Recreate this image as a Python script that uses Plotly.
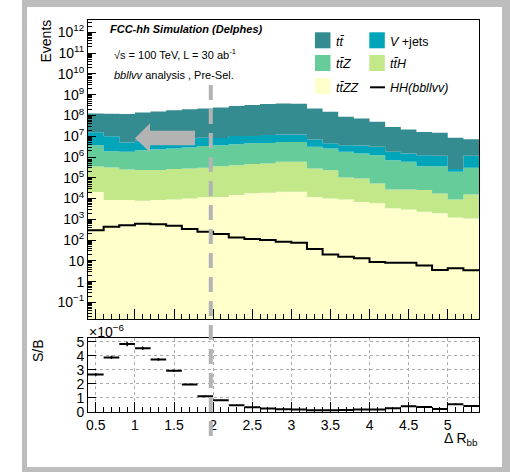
import numpy as np
import plotly.graph_objects as go

# ---------------- data ----------------
bin_edges = [round(0.4 + 0.2 * i, 2) for i in range(26)]
bin_centers = [round(0.5 + 0.2 * i, 2) for i in range(25)]

# per-process event counts per bin (stacked: ttZZ at bottom, tt at top)
ttZZ = [2.1e4, 8.5e3, 8.5e3, 7.8e3, 8.5e3, 9.1e3, 1.02e4, 1.15e4, 1.2e4, 1.48e4,
        1.78e4, 1.9e4, 2.14e4, 2.14e4, 1.2e4, 1.02e4, 9.1e3, 6.9e3, 5.9e3, 3.4e3,
        3.0e3, 2.3e3, 1.95e3, 1.23e3, 1.1e3]
ttH = [3.3e5, 3.08e5, 2.43e5, 2.27e5, 2.26e5, 2.54e5, 2.72e5, 2.91e5, 3.51e5, 3.93e5,
       4.39e5, 4.71e5, 5.67e5, 5.67e5, 2.70e5, 2.24e5, 9.56e4, 8.64e4, 4.78e4, 2.42e4,
       2.45e4, 2.34e4, 1.58e4, 7.9e3, 1.48e4]
ttZ = [3.36e6, 1.59e6, 1.53e6, 1.90e6, 2.11e6, 2.31e6, 2.60e6, 3.09e6, 3.35e6, 3.76e6,
       4.11e6, 4.30e6, 4.78e6, 4.78e6, 2.81e6, 2.34e6, 1.67e6, 1.39e6, 1.18e6, 6.80e5,
       5.61e5, 3.37e5, 3.45e5, 1.86e5, 2.86e5]
Vjets = [1.21e7, 8.1e6, 3.23e6, 4.17e6, 4.74e6, 5.02e6, 5.06e6, 5.12e6, 4.60e6, 6.06e6,
         5.66e6, 6.69e6, 6.93e6, 6.93e6, 3.99e6, 2.00e6, 1.94e6, 2.07e6, 1.86e6, 1.07e6,
         8.90e5, 8.67e5, 7.85e5, 6.8e4, 8.46e5]
tt = [1.10e8, 1.10e8, 1.12e8, 1.32e8, 1.51e8, 1.70e8, 1.92e8, 2.10e8, 2.32e8, 2.78e8,
      3.13e8, 3.43e8, 3.68e8, 3.60e8, 2.12e8, 1.47e8, 8.34e7, 6.89e7, 4.70e7, 2.64e7,
      1.99e7, 1.50e7, 1.36e7, 8.25e6, 6.10e6]
HH = [302, 437, 525, 617, 575, 490, 339, 251, 195, 135,
      112, 100, 83, 74, 37, 20.4, 15.8, 13.2, 8.7, 8.1,
      8.1, 6.0, 3.6, 4.4, 3.5]

# signal over background (lower panel)
sb = [2.67e-6, 3.88e-6, 4.84e-6, 4.53e-6, 3.74e-6, 2.93e-6, 1.96e-6, 1.12e-6, 0.84e-6, 0.48e-6,
      0.34e-6, 0.24e-6, 0.20e-6, 0.17e-6, 0.12e-6, 0.12e-6, 0.14e-6, 0.17e-6, 0.17e-6, 0.26e-6,
      0.41e-6, 0.36e-6, 0.21e-6, 0.55e-6, 0.43e-6]
sb_err = [0.10e-6, 0.12e-6, 0.16e-6, 0.13e-6, 0.10e-6, 0.08e-6, 0.05e-6, 0.03e-6, 0.03e-6, 0.02e-6,
          0.02e-6, 0.02e-6, 0.02e-6, 0.02e-6, 0.01e-6, 0.01e-6, 0.01e-6, 0.02e-6, 0.02e-6, 0.02e-6,
          0.03e-6, 0.03e-6, 0.02e-6, 0.06e-6, 0.05e-6]

cut_value = 1.97

layers = [("ttZZ", ttZZ, "#ffffcc"), ("ttH", ttH, "#c2e88a"), ("ttZ", ttZ, "#66cc99"),
          ("Vjets", Vjets, "#00a5b9"), ("tt", tt, "#348c91")]

y_major = [10.0 ** k for k in range(-1, 13)]
y_major_text = ["10<sup>\u22121</sup>", "1", "10"] + ["10<sup>%d</sup>" % k for k in range(2, 13)]

# ---------------- geometry helpers (pixel -> paper) ----------------
W, H = 510, 472
L, R, T, B = 88, 31, 20, 60
PW, PH = W - L - R, H - T - B


def pxx(x):
    return (x - L) / PW


def pxy(y):
    return (H - B - y) / PH


FONT = "Liberation Sans, Arial, Helvetica, sans-serif"

fig = go.Figure()


def step_y(vals):
    return list(vals) + [vals[-1]]


# stacked fills via cumulative step curves
fig.add_trace(go.Scatter(x=bin_edges, y=[1e-5] * 26, mode="lines", line=dict(width=0),
                         line_shape="hv", showlegend=False, hoverinfo="skip",
                         xaxis="x", yaxis="y"))
cum = np.zeros(25)
for name, vals, col in layers:
    cum = cum + np.array(vals)
    fig.add_trace(go.Scatter(x=bin_edges, y=step_y(cum), mode="lines", line=dict(width=0),
                             line_shape="hv", fill="tonexty", fillcolor=col, name=name,
                             showlegend=False, xaxis="x", yaxis="y"))

fig.add_trace(go.Scatter(x=bin_edges, y=step_y(HH), mode="lines", line_shape="hv",
                         line=dict(color="black", width=2), name="HH", showlegend=False,
                         xaxis="x", yaxis="y"))

# lower panel S/B
fig.add_trace(go.Scatter(x=bin_centers, y=sb, mode="markers",
                         marker=dict(size=1, color="black"),
                         error_x=dict(type="constant", value=0.1, thickness=2, width=0, color="black"),
                         error_y=dict(type="data", array=sb_err, thickness=1.5, width=0, color="black"),
                         showlegend=False, xaxis="x2", yaxis="y2"))

ax_common = dict(showline=True, mirror=True, linecolor="black", linewidth=1,
                 range=[0.4, 5.4], tick0=0.5, dtick=0.5, ticks="inside", ticklen=10,
                 tickcolor="black", zeroline=False,
                 minor=dict(ticks="inside", ticklen=5, dtick=0.1, tick0=0.4, tickcolor="black"))

main_dom = [pxy(319), 1.0]
low_dom = [0.0, pxy(338.3)]

fig.update_layout(
    width=W, height=H,
    margin=dict(l=L, r=R, t=T, b=B, pad=0),
    paper_bgcolor="white", plot_bgcolor="white",
    font=dict(family=FONT, size=14, color="black"),
    xaxis=dict(ax_common, showticklabels=False, showgrid=False, anchor="y"),
    yaxis=dict(type="log", range=[-1.8, 12.6], domain=main_dom, anchor="x",
               showline=True, mirror=True, linecolor="black", linewidth=1,
               tickmode="array", tickvals=y_major, ticktext=y_major_text,
               ticks="inside", ticklen=8, tickcolor="black", showgrid=False,
               tickfont=dict(size=14),
               minor=dict(ticks="inside", ticklen=4, dtick="D1", tickcolor="black", showgrid=False)),
    xaxis2=dict(ax_common, showticklabels=True, anchor="y2", showgrid=True,
                gridcolor="#aaaaaa", griddash="dot", gridwidth=1, tickfont=dict(size=14)),
    yaxis2=dict(range=[0, 5.24e-6], domain=low_dom, anchor="x2",
                showline=True, mirror=True, linecolor="black", linewidth=1,
                tickmode="array", tickvals=[k * 1e-6 for k in range(6)],
                ticktext=[str(k) for k in range(6)], ticks="inside", ticklen=8,
                tickcolor="black", showgrid=True, gridcolor="#aaaaaa", griddash="dot",
                zeroline=False, tickfont=dict(size=14)),
)

shapes = []
# outer grey frame
shapes.append(dict(type="rect", xref="paper", yref="paper", x0=pxx(22), x1=pxx(520),
                   y0=pxy(-10), y1=pxy(480), fillcolor="#bdbdbd", line=dict(width=0), layer="below"))
shapes.append(dict(type="rect", xref="paper", yref="paper", x0=pxx(27), x1=pxx(502),
                   y0=pxy(7), y1=pxy(467), fillcolor="white", line=dict(width=0), layer="below"))
# dashed cut line
xc = (cut_value - 0.4) / 5.0
shapes.append(dict(type="line", xref="paper", yref="paper", x0=xc, x1=xc, y0=pxy(85), y1=pxy(436),
                   line=dict(color="#b3b3b3", width=4, dash="15px,9px"), layer="above"))
# arrow
pts = [(135, 138.3), (150, 123.3), (150, 130.7), (195, 130.7), (195, 145.3), (150, 145.3), (150, 152.3)]
path = "M " + " L ".join("%.5f,%.5f" % (pxx(a), pxy(b)) for a, b in pts) + " Z"
shapes.append(dict(type="path", xref="paper", yref="paper", path=path,
                   fillcolor="#b3b3b3", line=dict(width=0), layer="above"))

# legend boxes
leg = [("<i>t</i><i>t\u0304</i>", "#348c91", 315, 40.3),
       ("<i>V</i> +jets", "#00a5b9", 369.3, 40.3),
       ("<i>t</i><i>t\u0304</i><i>Z</i>", "#66cc99", 315, 63),
       ("<i>t</i><i>t\u0304</i><i>H</i>", "#c2e88a", 369.3, 63),
       ("<i>t</i><i>t\u0304</i><i>ZZ</i>", "#ffffcc", 315, 86)]
ann = []
for txt, col, x0, yc in leg:
    shapes.append(dict(type="rect", xref="paper", yref="paper", x0=pxx(x0), x1=pxx(x0 + 15.5),
                       y0=pxy(yc + 8), y1=pxy(yc - 8), fillcolor=col, line=dict(width=0), layer="above"))
    ann.append(dict(x=pxx(x0 + 18.5), y=pxy(yc + 1.5), text=txt,
                    xanchor="left", yanchor="middle", font=dict(size=12.5)))
shapes.append(dict(type="line", xref="paper", yref="paper", x0=pxx(370), x1=pxx(385),
                   y0=pxy(87.3), y1=pxy(87.3), line=dict(color="black", width=2), layer="above"))
ann.append(dict(x=pxx(387.5), y=pxy(87.5), text="<i>HH(bbllvv)</i>",
                xanchor="left", yanchor="middle", font=dict(size=12.5)))

# texts
ann += [
    dict(x=pxx(108), y=pxy(29), text="<b><i>FCC-hh Simulation (Delphes)</i></b>",
         xanchor="left", yanchor="middle", font=dict(size=11)),
    dict(x=pxx(112), y=pxy(53.5), text="\u221as = 100 TeV, L = 30 ab<sup>-1</sup>",
         xanchor="left", yanchor="middle", font=dict(size=11)),
    dict(x=pxx(111.5), y=pxy(75), text="<i>bbllvv</i> analysis , Pre-Sel.",
         xanchor="left", yanchor="middle", font=dict(size=11)),
    dict(x=pxx(46), y=pxy(41.5), text="Events", textangle=-90,
         xanchor="center", yanchor="middle", font=dict(size=14)),
    dict(x=pxx(38), y=pxy(351), text="S/B", textangle=-90,
         xanchor="center", yanchor="middle", font=dict(size=14)),
    dict(x=pxx(87), y=pxy(331), text="\u00d710<sup>\u22126</sup>",
         xanchor="left", yanchor="middle", font=dict(size=14)),
    dict(x=pxx(480), y=pxy(439), text="\u0394 R<sub>bb</sub>",
         xanchor="right", yanchor="middle", font=dict(size=14)),
]
for a in ann:
    a["xref"] = "paper"
    a["yref"] = "paper"
    a["showarrow"] = False
    a["font"] = dict(family=FONT, color="black", size=a["font"]["size"])

fig.update_layout(shapes=shapes, annotations=ann)
fig.write_html("out.html")
